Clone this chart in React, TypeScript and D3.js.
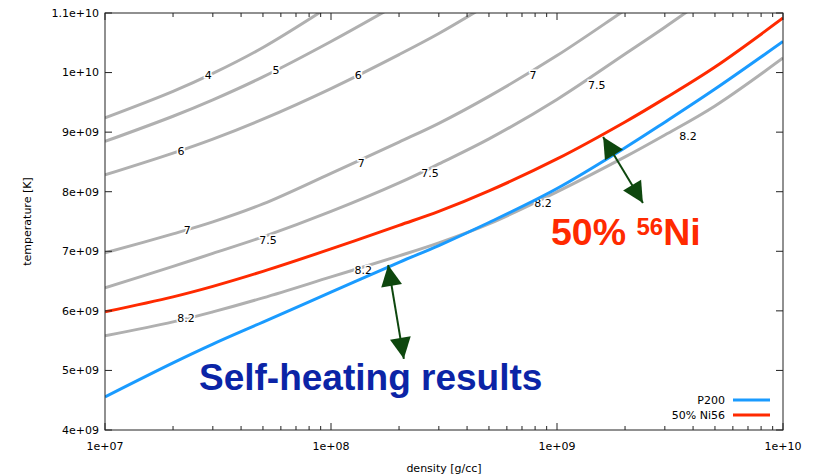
import React from "react";
import * as d3 from "d3";

// Density grid (g/cc) shared by the model tracks
const densities = [1e7, 2e7, 3e7, 5e7, 1e8, 2e8, 3e8, 5e8, 1e9, 2e9, 3e9, 5e9, 1e10];

// Temperatures in units of 1e9 K
const p200Temps = [4.557, 5.128, 5.443, 5.812, 6.314, 6.815, 7.097, 7.483, 8.054, 8.738, 9.167, 9.723, 10.522];
const ni56Temps = [5.983, 6.235, 6.411, 6.663, 7.04, 7.435, 7.669, 8.013, 8.55, 9.171, 9.567, 10.094, 10.916];

// Contour levels (gray lines); each runs over the first N grid densities
const contourLevels = ["4", "5", "6", "7", "7.5", "8.2"];
const contour4 = [9.238, 9.683, 9.985, 10.421, 11.129];
const contour5 = [8.844, 9.267, 9.542, 9.928, 10.522, 11.161];
const contour6 = [8.282, 8.648, 8.883, 9.218, 9.732, 10.302, 10.656, 11.153];
const contour7 = [6.973, 7.292, 7.493, 7.795, 8.309, 8.834, 9.148, 9.601, 10.285, 11.05, 11.497];
const contour75 = [6.386, 6.747, 6.965, 7.242, 7.669, 8.148, 8.466, 8.886, 9.549, 10.312, 10.762, 11.352];
const contour82 = [5.581, 5.815, 5.983, 6.218, 6.57, 6.923, 7.141, 7.46, 7.997, 8.584, 8.952, 9.44, 10.245];

// Contour label placements: [text, density, temperature (1e9 K)]
const contourLabels: [string, number, number][] = [
  ["4", 2.86e7, 9.96],
  ["5", 5.71e7, 10.04],
  ["6", 1.32e8, 9.96],
  ["7", 7.83e8, 9.96],
  ["7.5", 1.5e9, 9.79],
  ["8.2", 3.8e9, 8.94],
  ["6", 2.17e7, 8.68],
  ["7", 2.31e7, 7.36],
  ["7", 1.36e8, 8.48],
  ["7.5", 5.26e7, 7.19],
  ["7.5", 2.74e8, 8.32],
  ["8.2", 2.28e7, 5.87],
  ["8.2", 1.39e8, 6.69],
  ["8.2", 8.67e8, 7.81],
];

// Double-headed annotation arrows: [density1, T1, density2, T2]
const arrows: [number, number, number, number][] = [
  [1.79e8, 6.77, 2.1e8, 5.195],
  [1.6e9, 8.92, 2.4e9, 7.81],
];

const xTickValues = [1e7, 1e8, 1e9, 1e10];
const xTickLabels = ["1e+07", "1e+08", "1e+09", "1e+10"];
const yTickValues = [4, 5, 6, 7, 8, 9, 10, 11];
const yTickLabels = ["4e+09", "5e+09", "6e+09", "7e+09", "8e+09", "9e+09", "1e+10", "1.1e+10"];

const W = 819;
const H = 476;
const M = { left: 105, right: 783, top: 13, bottom: 430 };

const GRAY = "#b0b0b0";
const RED = "#ff2a00";
const BLUE = "#1a9bff";
const GREEN = "#0e470e";
const FONT = "'DejaVu Sans', sans-serif";

export default function App() {
  const x = d3.scaleLog().domain([1e7, 1e10]).range([M.left, M.right]);
  const y = d3.scaleLinear().domain([4, 11]).range([M.bottom, M.top]);

  const line = d3
    .line<[number, number]>()
    .x((d) => x(d[0]))
    .y((d) => y(d[1]))
    .curve(d3.curveCatmullRom.alpha(0.5));

  const series = (temps: number[]) => temps.map((t, i) => [densities[i], t] as [number, number]);

  const contours = [contour4, contour5, contour6, contour7, contour75, contour82];

  const minorX: number[] = [];
  for (let e = 7; e < 10; e++) {
    for (let k = 2; k <= 9; k++) minorX.push(k * Math.pow(10, e));
  }

  const majorLen = 7;
  const minorLen = 4;

  const arrowHead = (tx: number, ty: number, fx: number, fy: number) => {
    const ang = Math.atan2(ty - fy, tx - fx);
    const len = 21;
    const half = 10.5;
    const bx = tx - len * Math.cos(ang);
    const by = ty - len * Math.sin(ang);
    const px = -Math.sin(ang) * half;
    const py = Math.cos(ang) * half;
    return `M${tx},${ty}L${bx + px},${by + py}L${bx - px},${by - py}Z`;
  };

  return (
    <svg
      width={W}
      height={H}
      style={{ position: "absolute", left: 0, top: 0, background: "#fff" }}
      fontFamily={FONT}
    >
      <defs>
        <clipPath id="plot-clip">
          <rect x={M.left} y={M.top} width={M.right - M.left} height={M.bottom - M.top} />
        </clipPath>
      </defs>

      {/* contour lines */}
      <g clipPath="url(#plot-clip)" fill="none">
        {contours.map((c, i) => (
          <path key={contourLevels[i]} d={line(series(c)) || ""} stroke={GRAY} strokeWidth={3} />
        ))}
      </g>

      {/* contour labels */}
      <g fontSize={11} textAnchor="middle" fill="#000">
        {contourLabels.map(([t, d, temp], i) => (
          <text
            key={i}
            x={x(d)}
            y={y(temp)}
            dy="0.35em"
            stroke="#fff"
            strokeWidth={3}
            paintOrder="stroke"
          >
            {t}
          </text>
        ))}
      </g>

      {/* model tracks */}
      <g clipPath="url(#plot-clip)" fill="none">
        <path d={line(series(ni56Temps)) || ""} stroke={RED} strokeWidth={3} />
        <path d={line(series(p200Temps)) || ""} stroke={BLUE} strokeWidth={3} />
      </g>

      {/* frame and ticks */}
      <g stroke="#222" strokeWidth={1} fill="none">
        <rect x={M.left} y={M.top} width={M.right - M.left} height={M.bottom - M.top} />
        {xTickValues.map((v) => (
          <g key={"xt" + v}>
            <line x1={x(v)} x2={x(v)} y1={M.bottom} y2={M.bottom - majorLen} />
            <line x1={x(v)} x2={x(v)} y1={M.top} y2={M.top + majorLen} />
          </g>
        ))}
        {minorX.map((v) => (
          <g key={"xm" + v}>
            <line x1={x(v)} x2={x(v)} y1={M.bottom} y2={M.bottom - minorLen} />
            <line x1={x(v)} x2={x(v)} y1={M.top} y2={M.top + minorLen} />
          </g>
        ))}
        {yTickValues.map((v) => (
          <g key={"yt" + v}>
            <line x1={M.left} x2={M.left + majorLen} y1={y(v)} y2={y(v)} />
            <line x1={M.right} x2={M.right - majorLen} y1={y(v)} y2={y(v)} />
          </g>
        ))}
      </g>

      {/* tick labels */}
      <g fontSize={11} fill="#000">
        {xTickValues.map((v, i) => (
          <text key={"xl" + v} x={x(v)} y={450} textAnchor="middle">
            {xTickLabels[i]}
          </text>
        ))}
        {yTickValues.map((v, i) => (
          <text key={"yl" + v} x={99} y={y(v)} dy="0.35em" textAnchor="end">
            {yTickLabels[i]}
          </text>
        ))}
      </g>

      {/* axis titles */}
      <text x={(M.left + M.right) / 2} y={472} fontSize={11} textAnchor="middle">
        density [g/cc]
      </text>
      <text
        transform={`translate(31,${(M.top + M.bottom) / 2}) rotate(-90)`}
        fontSize={11}
        textAnchor="middle"
      >
        temperature [K]
      </text>

      {/* legend */}
      <g fontSize={11}>
        <text x={725} y={400} dy="0.35em" textAnchor="end">P200</text>
        <line x1={733} x2={770} y1={400} y2={400} stroke={BLUE} strokeWidth={3} />
        <text x={725} y={415} dy="0.35em" textAnchor="end">50% Ni56</text>
        <line x1={733} x2={770} y1={415} y2={415} stroke={RED} strokeWidth={3} />
      </g>

      {/* annotation arrows */}
      <g>
        {arrows.map(([d1, t1, d2, t2], i) => {
          const x1 = x(d1), y1 = y(t1), x2 = x(d2), y2 = y(t2);
          return (
            <g key={"ar" + i}>
              <line x1={x1} y1={y1} x2={x2} y2={y2} stroke={GREEN} strokeWidth={2} />
              <path d={arrowHead(x1, y1, x2, y2)} fill={GREEN} />
              <path d={arrowHead(x2, y2, x1, y1)} fill={GREEN} />
            </g>
          );
        })}
      </g>

      {/* annotations */}
      <text
        x={199}
        y={390}
        fontFamily="'Liberation Sans', Arial, sans-serif"
        fontWeight="bold"
        fontSize={37}
        fill="#0b24a6"
      >
        Self-heating results
      </text>
      <text
        x={551}
        y={245}
        fontFamily="'Liberation Sans', Arial, sans-serif"
        fontWeight="bold"
        fontSize={37.5}
        fill={RED}
      >
        50%{" "}
        <tspan fontSize={24} dy={-10}>56</tspan>
        <tspan dy={10}>Ni</tspan>
      </text>
    </svg>
  );
}
